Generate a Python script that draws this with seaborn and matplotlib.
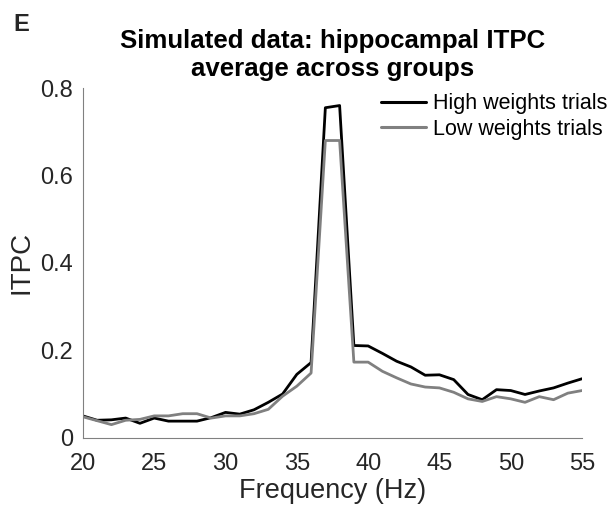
import numpy as np
import pandas as pd
import matplotlib
matplotlib.use('Agg')
import matplotlib.pyplot as plt
import seaborn as sns

# Frequency axis (Hz) and ITPC values
freqs = list(range(20, 56))
high_itpc = [0.050, 0.040, 0.041, 0.045, 0.033, 0.045, 0.038, 0.038, 0.038, 0.046,
             0.058, 0.054, 0.064, 0.081, 0.100, 0.145, 0.172, 0.755, 0.760, 0.211,
             0.210, 0.193, 0.175, 0.162, 0.143, 0.144, 0.133, 0.099, 0.087, 0.110,
             0.108, 0.099, 0.107, 0.114, 0.125, 0.135]
low_itpc = [0.048, 0.039, 0.030, 0.040, 0.042, 0.050, 0.050, 0.055, 0.055, 0.045,
            0.050, 0.050, 0.055, 0.065, 0.095, 0.118, 0.148, 0.680, 0.680, 0.173,
            0.173, 0.152, 0.137, 0.123, 0.116, 0.114, 0.104, 0.089, 0.083, 0.094,
            0.089, 0.081, 0.094, 0.087, 0.102, 0.108]
series_names = ['High weights trials', 'Low weights trials']

df = pd.DataFrame({
    'Frequency': freqs * 2,
    'ITPC': high_itpc + low_itpc,
    'Trials': [series_names[0]] * len(freqs) + [series_names[1]] * len(freqs),
})

sns.set_style('white')
plt.rcParams['font.family'] = ['Liberation Sans', 'DejaVu Sans']

fig = plt.figure(figsize=(6.14, 5.09), dpi=100)
ax = fig.add_axes([0.135, 0.140, 0.813, 0.687])

sns.lineplot(data=df, x='Frequency', y='ITPC', hue='Trials',
             palette=['black', '#808080'], linewidth=2.0, ax=ax)

ax.set_xlim(20, 55)
ax.set_ylim(0, 0.8)
ax.set_xticks([20, 25, 30, 35, 40, 45, 50, 55])
ax.set_yticks([0, 0.2, 0.4, 0.6, 0.8])
ax.set_yticklabels(['0', '0.2', '0.4', '0.6', '0.8'])
ax.set_xlabel('Frequency (Hz)', fontsize=19.5, color='#262626', labelpad=2)
ax.set_ylabel('ITPC', fontsize=20, color='#262626', labelpad=4)
ax.tick_params(axis='both', direction='in', length=5, width=0.8,
               color='#808080', labelsize=17, labelcolor='#262626')
ax.tick_params(axis='x', pad=11)
ax.tick_params(axis='y', pad=7)
sns.despine(ax=ax)
for side in ['left', 'bottom']:
    ax.spines[side].set_color('#808080')
    ax.spines[side].set_linewidth(0.8)

ax.set_title('Simulated data: hippocampal ITPC\naverage across groups',
             fontsize=18.6, fontweight='bold', color='black', pad=9,
             linespacing=1.2)

leg = ax.legend(loc='upper right', bbox_to_anchor=(1.09, 1.04), frameon=False,
                fontsize=15.5, handlelength=2.1, handletextpad=0.35,
                labelspacing=0.2, title=None)
for line in leg.get_lines():
    line.set_linewidth(2.2)
for txt in leg.get_texts():
    txt.set_color('black')

fig.text(0.021, 0.939, 'E', fontsize=17, fontweight='bold')

fig.savefig('out.png', dpi=100)
